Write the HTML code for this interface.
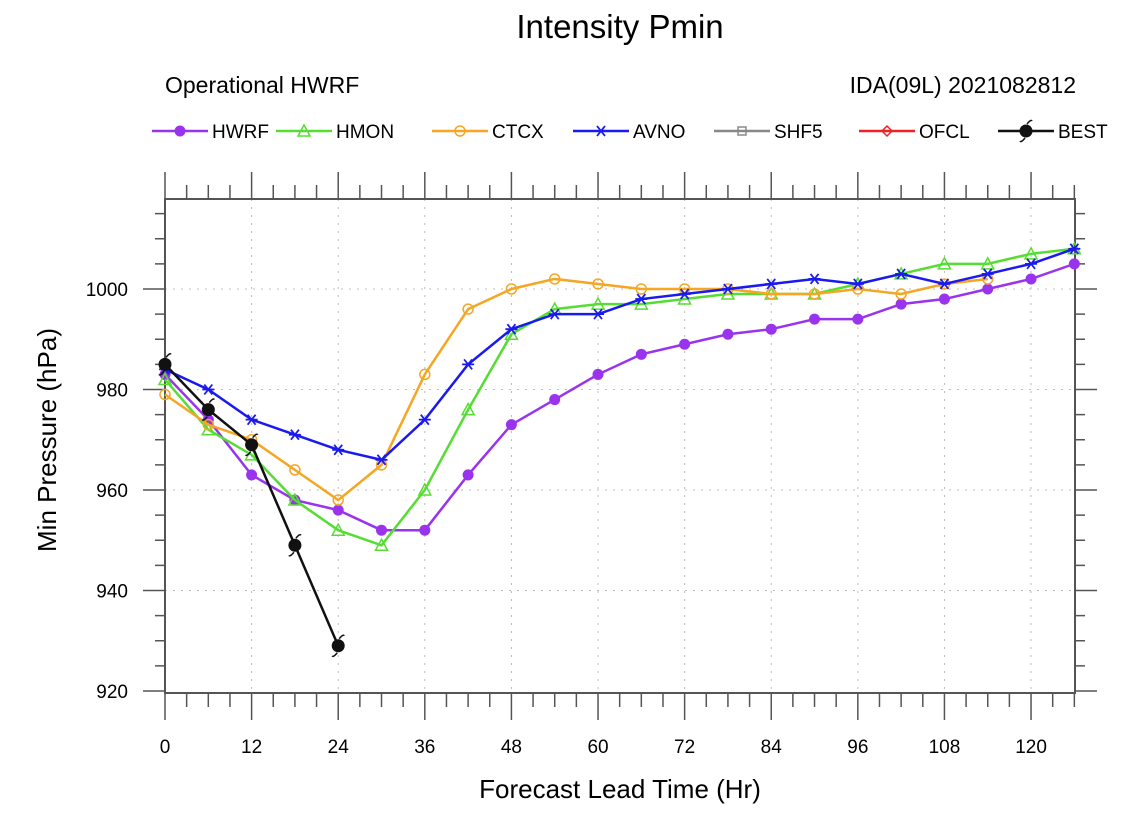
<!DOCTYPE html>
<html><head><meta charset="utf-8"><style>
body{margin:0;background:#fff;}
svg{display:block;font-family:"Liberation Sans",sans-serif;}
</style></head><body>
<svg id="s" width="1132" height="828" xmlns="http://www.w3.org/2000/svg">
<rect width="1132" height="828" fill="#fff"/>
<text x="620" y="38" font-size="33" text-anchor="middle">Intensity Pmin</text>
<text x="165" y="93" font-size="23">Operational HWRF</text>
<text x="1076" y="93" font-size="23" text-anchor="end">IDA(09L) 2021082812</text>
<g id="leg"></g>
<g id="grid"></g>
<rect x="165" y="199" width="910" height="494" fill="none" stroke="#555" stroke-width="2"/>
<g id="ticks" stroke="#555" stroke-width="1.5"></g>
<g id="data"></g>
<text x="620" y="798" font-size="26" text-anchor="middle">Forecast Lead Time (Hr)</text>
<text transform="translate(56,440) rotate(-90)" font-size="26" text-anchor="middle">Min Pressure (hPa)</text>
</svg>
<script>
const NS="http://www.w3.org/2000/svg";
function el(p,t,a,txt){const e=document.createElementNS(NS,t);for(const k in a)e.setAttribute(k,a[k]);if(txt!==undefined)e.textContent=txt;document.getElementById(p).appendChild(e);return e;}
const X=h=>165+h*7.217, Y=p=>289+(1000-p)*5.025;
// grid
for(let h=12;h<126;h+=12)el("grid","line",{x1:X(h),x2:X(h),y1:199,y2:693,stroke:"#bbb","stroke-dasharray":"2,6"});
for(let p=940;p<=1000;p+=20)el("grid","line",{x1:165,x2:1075,y1:Y(p),y2:Y(p),stroke:"#bbb","stroke-dasharray":"2,6"});
// x ticks
for(let h=0;h<=126;h+=3){const maj=h%12==0;const l=maj?27:14;
el("ticks","line",{x1:X(h),x2:X(h),y1:199,y2:199-l});
el("ticks","line",{x1:X(h),x2:X(h),y1:693,y2:693+l});
if(maj)el("ticks","text",{x:X(h),y:753,"font-size":19,"text-anchor":"middle",stroke:"none",fill:"#000"},h);}
for(let p=920;p<=1018;p+=5){const maj=p%20==0;const l=maj?22:10;
el("ticks","line",{x1:165,x2:165-l,y1:Y(p),y2:Y(p)});
el("ticks","line",{x1:1075,x2:1075+l,y1:Y(p),y2:Y(p)});
if(maj)el("ticks","text",{x:128,y:Y(p)+7,"font-size":19,"text-anchor":"end",stroke:"none",fill:"#000"},p);}
function mark(g,type,x,y,c){
 if(type=="c")el(g,"circle",{cx:x,cy:y,r:5.5,fill:c});
 else if(type=="t")el(g,"path",{d:`M${x} ${y-6}L${x+6} ${y+5}L${x-6} ${y+5}Z`,fill:"none",stroke:c,"stroke-width":1.5});
 else if(type=="o")el(g,"circle",{cx:x,cy:y,r:5,fill:"none",stroke:c,"stroke-width":1.5});
 else if(type=="x"){el(g,"path",{d:`M${x-6} ${y}H${x+6}M${x-4} ${y-5}L${x+4} ${y+5}M${x+4} ${y-5}L${x-4} ${y+5}`,stroke:c,"stroke-width":1.8});}
 else if(type=="s")el(g,"rect",{x:x-4,y:y-4,width:8,height:8,fill:"none",stroke:c,"stroke-width":1.5});
 else if(type=="d")el(g,"path",{d:`M${x} ${y-5}L${x+5} ${y}L${x} ${y+5}L${x-5} ${y}Z`,fill:"none",stroke:c,"stroke-width":1.5});
 else if(type=="b"){el(g,"circle",{cx:x,cy:y,r:6.5,fill:c});el(g,"path",{d:`M${x+1} ${y-7}Q${x+5} ${y-12} ${x+6} ${y-10}M${x-1} ${y+7}Q${x-5} ${y+12} ${x-6} ${y+10}`,fill:"none",stroke:c,"stroke-width":1.5});}
}
const S=[
["HWRF","#9933ee","c",[983,974,963,958,956,952,952,963,973,978,983,987,989,991,992,994,994,997,998,1000,1002,1005]],
["HMON","#55dd33","t",[982,972,967,958,952,949,960,976,991,996,997,997,998,999,999,999,1001,1003,1005,1005,1007,1008]],
["CTCX","#f5a623","o",[979,973,970,964,958,965,983,996,1000,1002,1001,1000,1000,1000,999,999,1000,999,1001,1002]],
["AVNO","#1a1aee","x",[984,980,974,971,968,966,974,985,992,995,995,998,999,1000,1001,1002,1001,1003,1001,1003,1005,1008]],
["SHF5","#888","s",[]],["OFCL","#ee2222","d",[]],
["BEST","#111","b",[985,976,969,949,929]]];
const lx=[152,276,432,573,714,859,998];
S.forEach((s,i)=>{
 const [n,c,t,d]=s;
 if(d.length){el("data","polyline",{points:d.map((p,j)=>X(j*6)+","+Y(p)).join(" "),fill:"none",stroke:c,"stroke-width":2.5});
 d.forEach((p,j)=>mark("data",t,X(j*6),Y(p),c));}
 const x=lx[i];el("leg","line",{x1:x,x2:x+56,y1:131,y2:131,stroke:c,"stroke-width":2.5});
 mark("leg",t,x+28,131,c);
 el("leg","text",{x:x+60,y:138,"font-size":19},n);
});
</script>
</body></html>
